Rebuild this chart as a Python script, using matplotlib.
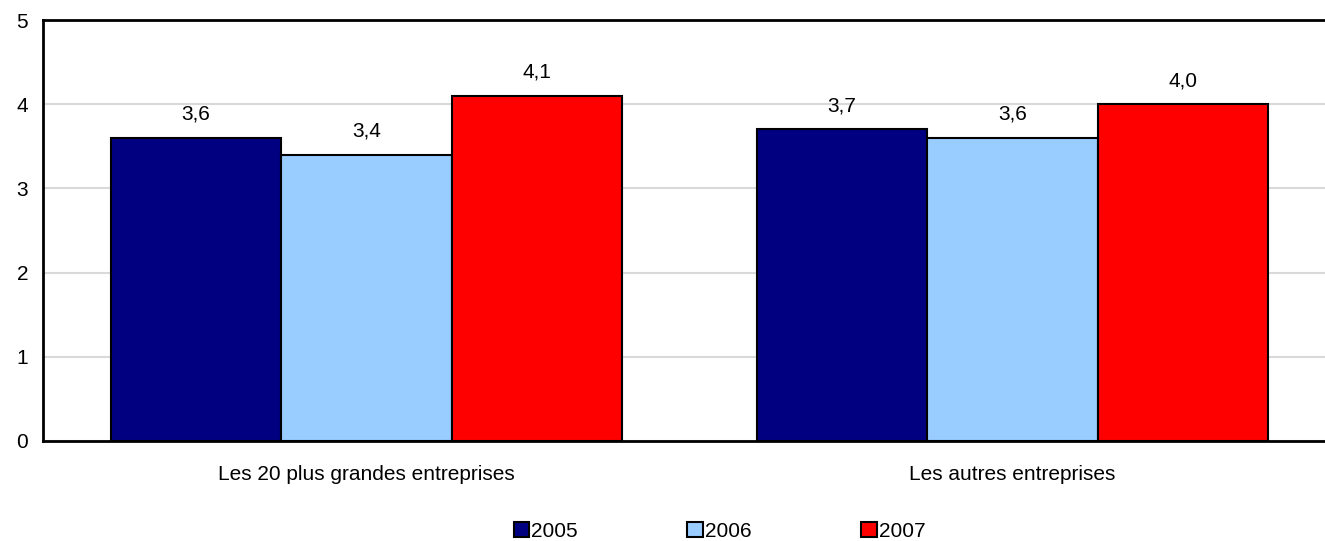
import numpy as np
import matplotlib.pyplot as plt

plt.rcParams["font.family"] = ["Liberation Sans", "DejaVu Sans"]

categories = ["Les 20 plus grandes entreprises", "Les autres entreprises"]
years = ["2005", "2006", "2007"]
values = {
    "2005": [3.6, 3.7],
    "2006": [3.4, 3.6],
    "2007": [4.1, 4.0],
}
colors = ["#000080", "#99ccff", "#ff0000"]

fig = plt.figure(figsize=(13.25, 5.41), dpi=100)
ax = fig.add_axes([0.0328, 0.185, 0.975, 0.778])

x = np.arange(len(categories))
width = 0.264
for i, (year, col) in enumerate(zip(years, colors)):
    pos = x + (i - 1) * width
    bars = ax.bar(pos, values[year], width, color=col, edgecolor="black",
                  linewidth=1.5, label=year, zorder=3)
    for b, v in zip(bars, values[year]):
        ax.annotate(f"{v:.1f}".replace(".", ","),
                    (b.get_x() + b.get_width() / 2, v),
                    xytext=(0, 10), textcoords="offset points",
                    ha="center", va="bottom", fontsize=15)

ax.set_xlim(-0.5, 1.5)
ax.set_ylim(0, 5)
ax.set_yticks(range(6))
ax.tick_params(axis="y", length=0, labelsize=15, pad=11)
ax.tick_params(axis="x", length=0, labelsize=15, pad=17)
ax.set_xticks(x)
ax.set_xticklabels(categories)
ax.yaxis.grid(True, color="#d9d9d9", linewidth=1.5, zorder=0)
ax.set_axisbelow(True)
for s in ["left", "bottom", "top"]:
    ax.spines[s].set_linewidth(2)
ax.spines["right"].set_visible(False)

fig.legend(loc="lower center", bbox_to_anchor=(0.543, -0.034), ncol=3,
           frameon=False, fontsize=15, handlelength=0.75, handleheight=0.75,
           handletextpad=0.1, columnspacing=5.25)

fig.savefig("out.png", dpi=100)
